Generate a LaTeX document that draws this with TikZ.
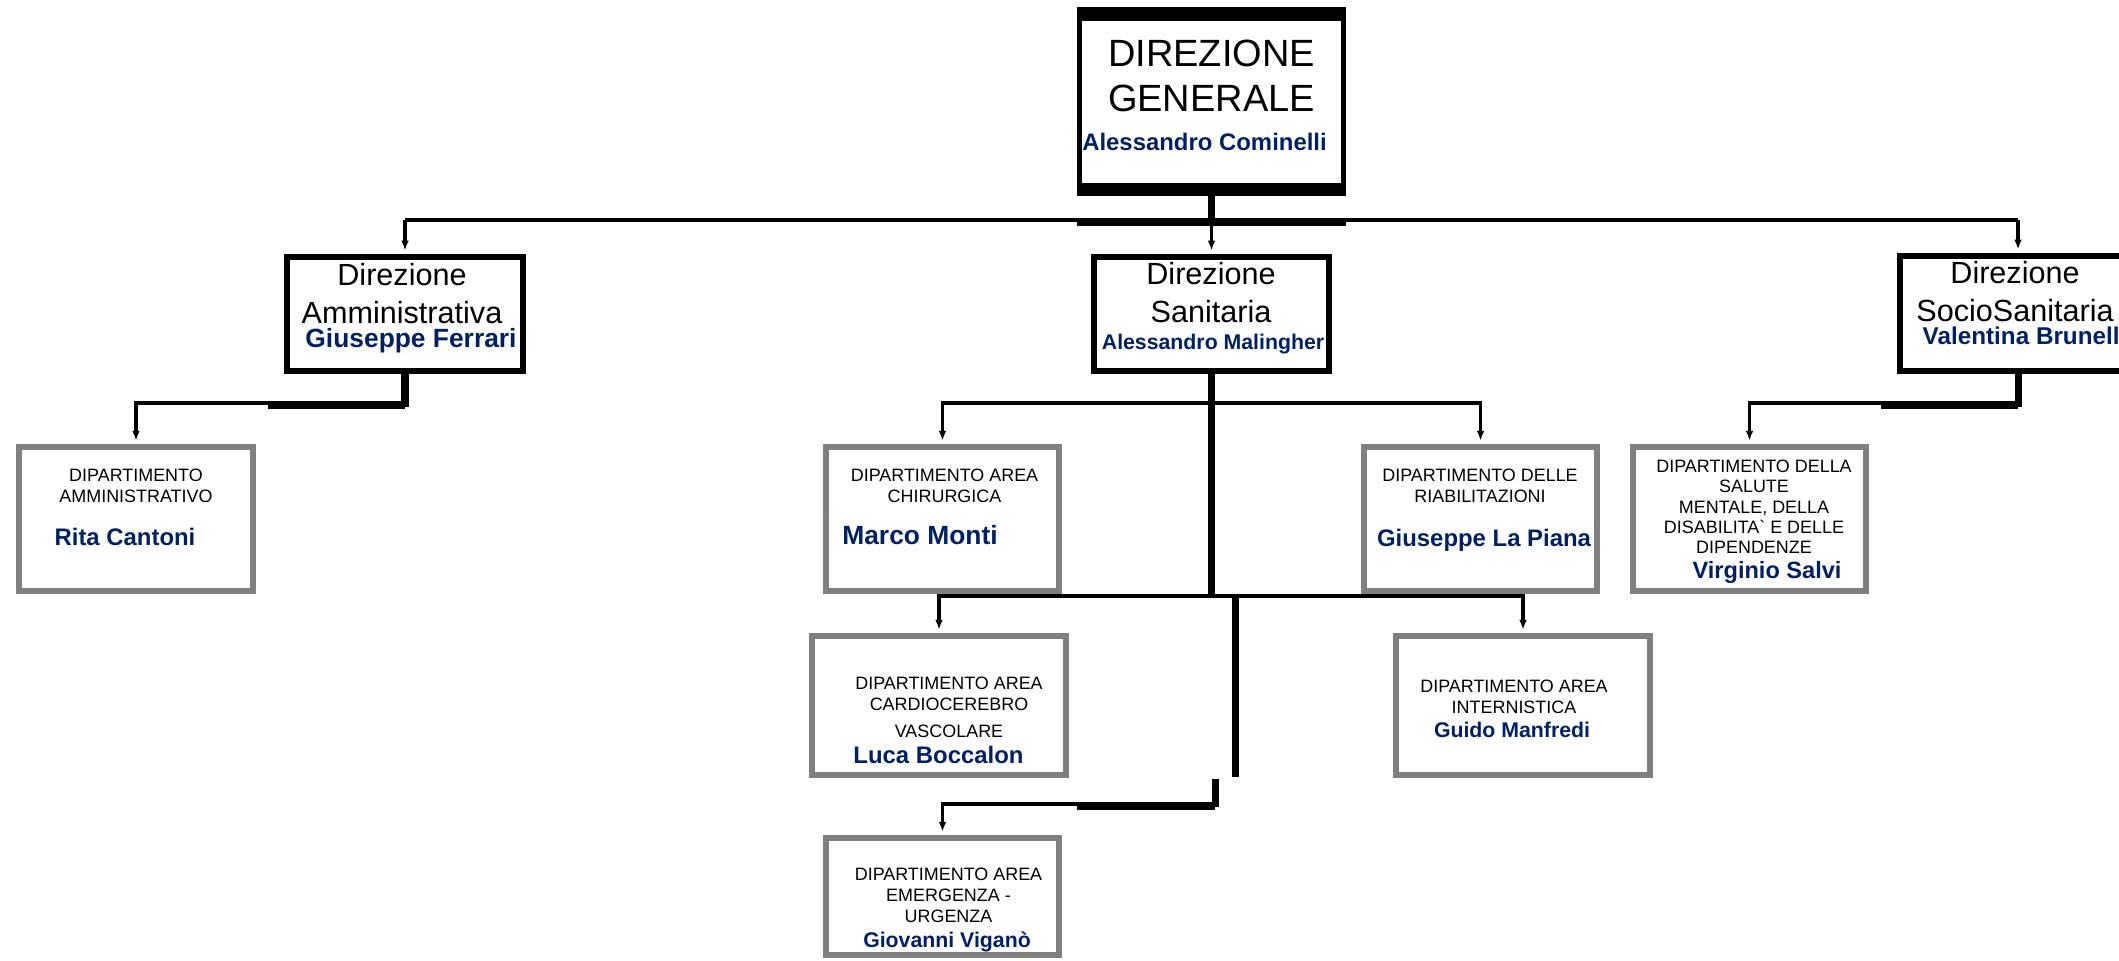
\documentclass[tikz,border=0pt]{standalone}
\usepackage{fontspec}
\setmainfont{Liberation Sans}
\usetikzlibrary{arrows.meta,calc}
\definecolor{nomeblu}{RGB}{0,32,96}
\definecolor{grigio}{RGB}{128,128,128}

\begin{document}
\begin{tikzpicture}[x=0.01cm, y=-0.01cm,
  dirbox/.style={draw, line width=1.7pt, fill=white, inner sep=0},
  depbox/.style={draw=grigio, line width=1.6pt, fill=white, inner sep=0},
  titdg/.style={align=center, inner sep=0, anchor=north, font=\fontsize{10.8}{12.8}\selectfont},
  titdir/.style={align=center, inner sep=0, anchor=north, font=\fontsize{8.7}{10.7}\selectfont},
  titdep/.style={align=center, inner sep=0, anchor=north, font=\fontsize{5.1}{6}\selectfont},
  nome/.style={inner sep=0, anchor=base, text=nomeblu, font=\fontsize{#1}{#1}\selectfont\bfseries},
  nome/.default=6.8,
  arr/.style={line width=0.9pt, -{Latex[length=2.8pt,width=2.2pt]}, shorten >=1pt},
  link/.style={line width=0.9pt},
  trunk/.style={line width=2pt},
  ombra/.style={line width=1.7pt}]
\useasboundingbox (0,0) rectangle (2119,960);
\clip (0,0) rectangle (2119,960);

% frames
\node[dirbox, line width=1.42pt, minimum width=2.64cm, minimum height=1.84cm] (dg) at (1211.5,101.5) {};
\fill (dg.north west) rectangle ($(dg.north east)+(0,14)$);
\fill ($(dg.south west)+(0,-13)$) rectangle (dg.south east);
\node[dirbox, minimum width=2.36cm, minimum height=1.14cm] (amm) at (405,314) {};
\node[dirbox, minimum width=2.35cm, minimum height=1.14cm] (san) at (1211.5,314) {};
\node[dirbox, minimum width=2.36cm, minimum height=1.15cm] (soc) at (2018,313.5) {};
\node[depbox, minimum width=2.34cm, minimum height=1.44cm] (damm) at (136,519) {};
\node[depbox, minimum width=2.33cm, minimum height=1.44cm] (chir) at (942.5,519) {};
\node[depbox, minimum width=2.33cm, minimum height=1.44cm] (riab) at (1480.5,519) {};
\node[depbox, minimum width=2.33cm, minimum height=1.44cm] (sal) at (1749.5,519) {};
\node[depbox, minimum width=2.54cm, minimum height=1.39cm] (card) at (939,705.5) {};
\node[depbox, minimum width=2.54cm, minimum height=1.39cm] (inte) at (1523,705.5) {};
\node[depbox, minimum width=2.33cm, minimum height=1.17cm] (emer) at (942.5,896.5) {};

% texts
\node[titdg] (dg-t) at (1211.5,39) {DIREZIONE\\GENERALE};
\node[nome] (dg-n) at (1204.5,150) {Alessandro Cominelli};
\node[titdir] (amm-t) at (402,263) {Direzione\\Amministrativa};
\node[nome=7.5] (amm-n) at (411,347) {Giuseppe Ferrari};
\node[titdir] (san-t) at (1211,262) {Direzione\\Sanitaria};
\node[nome=6.05] (san-n) at (1213,349) {Alessandro Malingher};
\node[titdir] (soc-t) at (2015,261) {Direzione\\SocioSanitaria};
\node[nome=6.9, anchor=base west] (soc-n) at (1922,344) {Valentina Brunell};
\node[titdep] (damm-t) at (136,468) {DIPARTIMENTO\\AMMINISTRATIVO};
\node[nome] (damm-n) at (125,545) {Rita Cantoni};
\node[titdep] (chir-t) at (944.5,468) {DIPARTIMENTO AREA\\CHIRURGICA};
\node[nome=7.5] (chir-n) at (920,544) {Marco Monti};
\node[titdep] (riab-t) at (1480,468) {DIPARTIMENTO DELLE\\RIABILITAZIONI};
\node[nome] (riab-n) at (1484,546) {Giuseppe La Piana};
\node[titdep, font=\fontsize{5.1}{5.8}\selectfont] (sal-t) at (1754,459)
  {DIPARTIMENTO DELLA\\SALUTE\\MENTALE, DELLA\\DISABILITA\textasciigrave{} E DELLE\\DIPENDENZE};
\node[nome=6.7] (sal-n) at (1767,578) {Virginio Salvi};
\node[titdep] (card-t) at (949,676) {DIPARTIMENTO AREA\\CARDIOCEREBRO\\[1.7pt]VASCOLARE};
\node[nome] (card-n) at (938.5,763) {Luca Boccalon};
\node[titdep] (inte-t) at (1514,679) {DIPARTIMENTO AREA\\INTERNISTICA};
\node[nome=6.05] (inte-n) at (1512,737) {Guido Manfredi};
\node[titdep] (emer-t) at (948.5,867) {DIPARTIMENTO AREA\\EMERGENZA -\\URGENZA};
\node[nome=6.05] (emer-n) at (947,947) {Giovanni Vigan\`o};

% first level
\coordinate (j0) at (0,220);
\draw[trunk] (dg.south) -- (dg.south |- j0);
\draw[link] (amm.north |- j0) -- (soc.north |- j0);
\draw[ombra] ($(dg.south west |- j0)+(0,3)$) -- ($(dg.south east |- j0)+(0,3)$);
\foreach \n in {amm,san,soc}
  \draw[arr] (\n.north |- j0) -- (\n.north);

% Amministrativa and SocioSanitaria
\coordinate (j1) at (0,403);
\draw[trunk] (amm.south) -- ($(amm.south |- j1)+(0,4)$);
\draw[arr] (amm.south |- j1) -| (damm.north);
\draw[ombra] ($(amm.south |- j1)+(0,3)$) -- ++(-137,0);
\draw[trunk] (soc.south) -- ($(soc.south |- j1)+(0,4)$);
\draw[arr] (soc.south |- j1) -| (sal.north);
\draw[ombra] ($(soc.south |- j1)+(0,3)$) -- ++(-137,0);

% Sanitaria
\coordinate (j2) at (0,403);
\coordinate (j3) at (0,596);
\draw[trunk] (san.south) -- (san.south |- j3);
\draw[arr] (san.south |- j2) -| (chir.north);
\draw[arr] (san.south |- j2) -| (riab.north);
\draw[arr] (san.south |- j3) -| (card.north);
\draw[arr] (san.south |- j3) -| (inte.north);
\coordinate (t1) at (1235,596);
\coordinate (t2) at (1235,777);
\draw[trunk] (t1) -- (t2);
\coordinate (t3) at (1215,779);
\coordinate (t4) at (1215,804);
\draw[trunk] (t3) -- ($(t4)+(0,3)$);
\draw[arr] (t4) -| (emer.north);
\draw[ombra] ($(t4)+(0,3)$) -- ++(-138,0);

\end{tikzpicture}
\end{document}
